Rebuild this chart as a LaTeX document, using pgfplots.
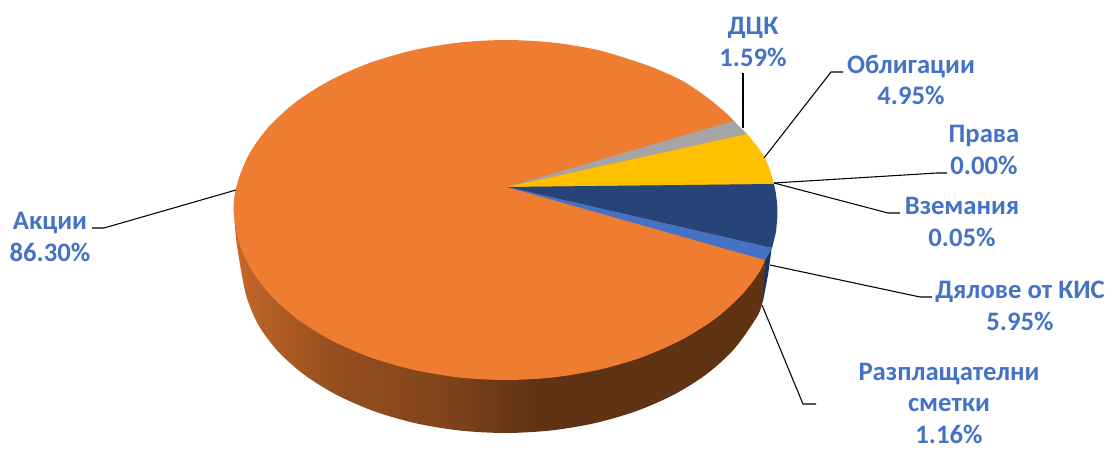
\documentclass[border=0pt]{standalone}
\usepackage{pgfplots}
\pgfplotsset{compat=1.18}
\usepackage{fontspec}
\setmainfont{Carlito}
\definecolor{lbl}{HTML}{4472C4}
\definecolor{orangetop}{HTML}{EE7D31}
\definecolor{navy}{HTML}{264478}
\definecolor{navyside}{HTML}{173560}
\definecolor{gold}{HTML}{FFC000}
\definecolor{greyw}{HTML}{A5A5A5}
\pgfdeclarehorizontalshading{sideshade}{100bp}{
 color(0bp)=(orangetop!84!black);
 color(25bp)=(orangetop!84!black);
 color(28bp)=(orangetop!76!black);
 color(34.7bp)=(orangetop!63!black);
 color(44.8bp)=(orangetop!54!black);
 color(53.5bp)=(orangetop!40!black);
 color(100bp)=(orangetop!40!black)}
\tikzset{lab/.style={font=\fontsize{20}{23.6}\selectfont\bfseries, text=lbl, align=center, inner sep=0pt}}
\begin{document}
\begin{tikzpicture}
\useasboundingbox (0,0) rectangle (831pt,337.5pt);
\begin{axis}[
  scale only axis, width=831pt, height=337.5pt,
  xmin=0, xmax=1108, ymin=0, ymax=450, y dir=reverse,
  axis lines=none, clip=false, no markers]
% side of the navy wedge
\addplot[draw=none, fill=navyside] coordinates {(771.7,247.7)(768.3,273.3)(763.3,300)(761.7,305)(765,260)} -- cycle;
% side of the orange wedge
\addplot[shading=sideshade, draw=none, smooth] coordinates {
(765,260)(761.7,305)(751.2,325.7)(731.9,351.5)(705.7,374.8)(673.4,394.9)(636,411.2)(594.6,423.2)(550.5,430.5)(505,433)(459.5,430.5)(415.4,423.2)(374,411.2)(336.6,394.9)(304.3,374.8)(278.1,351.5)(258.8,325.7)(247,298.3)(241,270)(236,238)(234,207)
(240,240)(252,268.1)(272,295)(299,319.3)(332,340.2)(371,357.2)(413,368)(458.8,375)(506,378)(553.2,375)(599,368)(642,355)(680.8,338)(714.4,317)(741,293)};
% top of the orange wedge
\addplot[fill=orangetop, draw=none, smooth cycle] coordinates {
(775,210)(771,239.5)(761.6,268.1)(741.6,295)(714.4,319.3)(680.8,340.2)(642,357.2)(599,369.7)(553.2,377.4)(506,380)(458.8,377.4)(413,369.7)(370,357.2)(331.2,340.2)(297.6,319.3)(270.4,295)(250.4,268.1)(238.1,239.5)(233.5,207)(238.1,180.5)(250.4,151.9)(270.4,125)(297.6,100.7)(331.2,79.8)(370,62.8)(413,50.3)(458.8,42.6)(506,40)(553.2,42.6)(599,50.3)(642,63.5)(666,73)(687,83.5)(713,102)(735,122)(755,150)(770,180)};
% other wedges
\addplot[fill=greyw, draw=none] coordinates {(507,187)(733,121)(741,128)(747,134)} -- cycle;
\addplot[fill=gold, draw=none] coordinates {(507,187)(747,134)(757,146)(765,158)(770,170)(774,184)} -- cycle;
\addplot[fill=navy, draw=none] coordinates {(507,187)(774,184)(776,194)(777.3,205)(777.3,218)(776,232)(772,248)} -- cycle;
\addplot[fill=lbl, draw=none] coordinates {(507,187)(772,248)(765,260)} -- cycle;
% leader lines
\addplot[black, line width=0.8pt] coordinates {(92,228)(104,228)(236,190)};
\addplot[black, line width=0.8pt] coordinates {(743,73)(743,128)};
\addplot[black, line width=0.8pt] coordinates {(843,72)(831,72)(764,158)};
\addplot[black, line width=0.8pt] coordinates {(947,173)(937,173)(774,183)};
\addplot[black, line width=0.8pt] coordinates {(900,213)(888,213)(774,183)};
\addplot[black, line width=0.8pt] coordinates {(932,297)(920,297)(770,265)};
\addplot[black, line width=0.8pt] coordinates {(816,404)(803,404)(762,305)};
% labels
\node[lab] at (axis cs:50,237) {Акции\\86.30\%};
\node[lab] at (axis cs:753,42) {ДЦК\\1.59\%};
\node[lab] at (axis cs:911,80) {Облигации\\4.95\%};
\node[lab] at (axis cs:984,150) {Права\\0.00\%};
\node[lab] at (axis cs:962,222) {Вземания\\0.05\%};
\node[lab] at (axis cs:1020,306) {Дялове от КИС\\5.95\%};
\node[lab] at (axis cs:949,403) {Разплащателни\\сметки\\1.16\%};
\end{axis}
\end{tikzpicture}
\end{document}
